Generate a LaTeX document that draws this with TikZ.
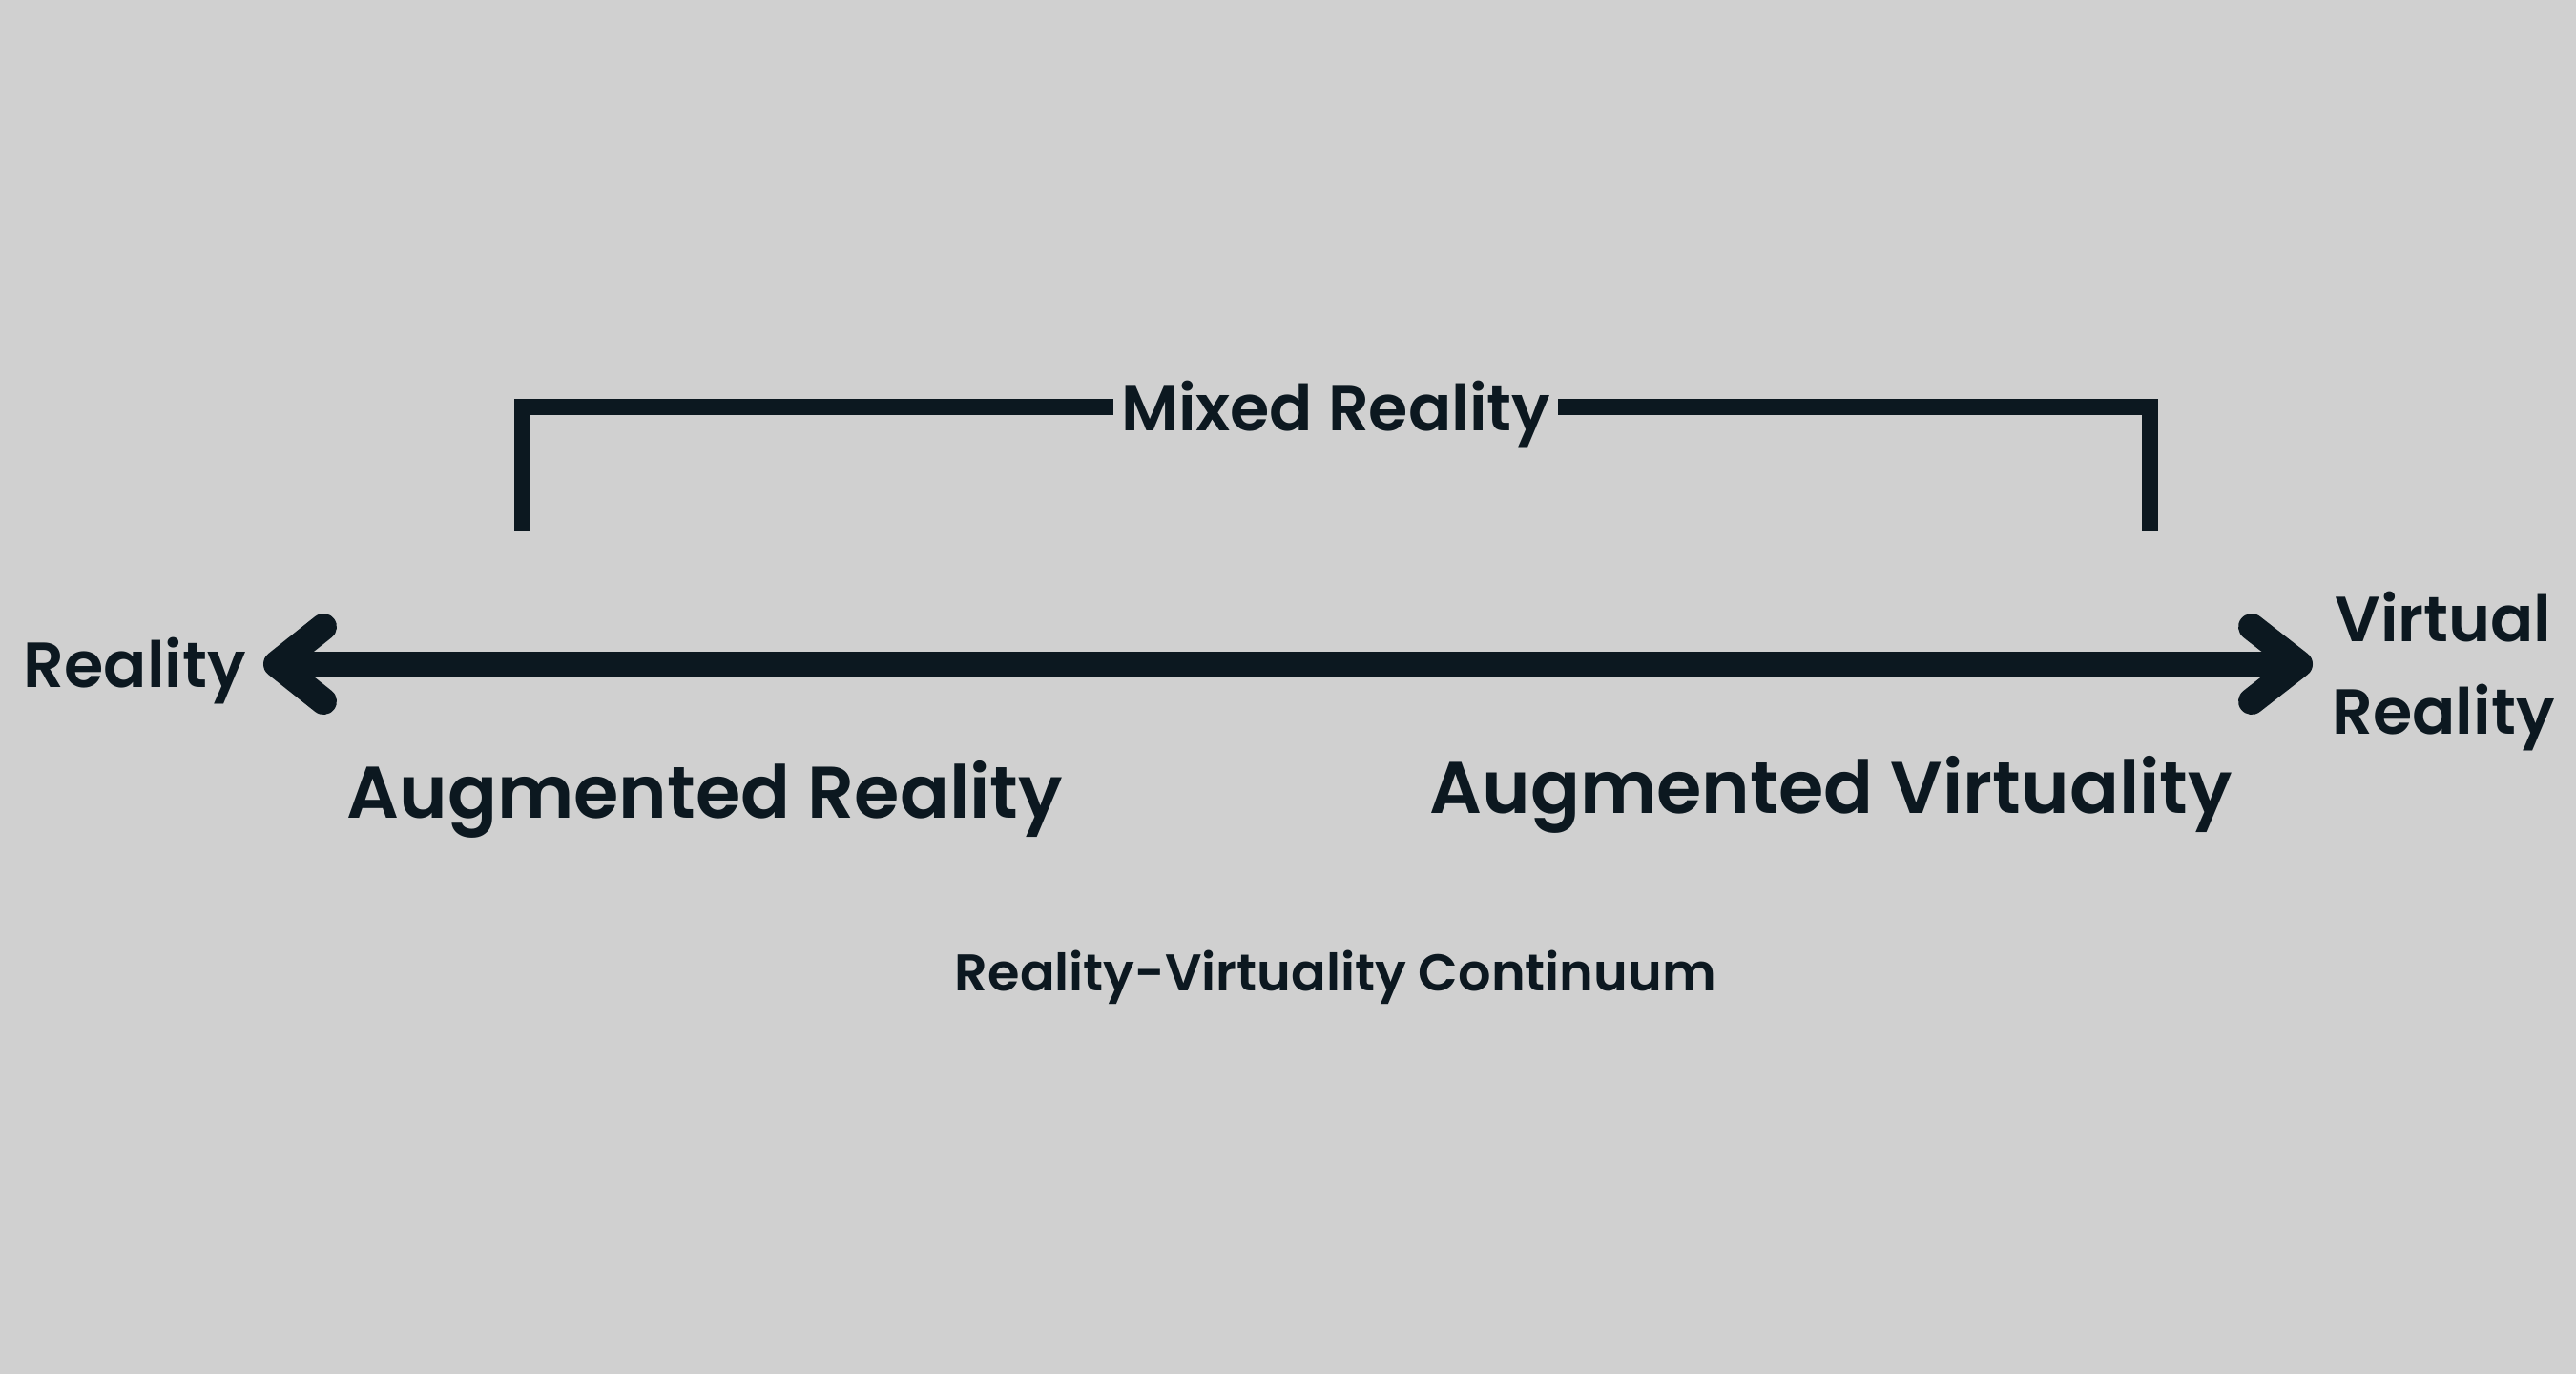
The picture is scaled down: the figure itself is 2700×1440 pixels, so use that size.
\documentclass[tikz,border=0pt]{standalone}
\usepackage{fontspec}
\setmainfont{Poppins}[UprightFont=*-SemiBold]
\definecolor{bg}{HTML}{D0D0D0}
\definecolor{ink}{HTML}{0C1820}
\begin{document}
\begin{tikzpicture}[x=0.01cm,y=-0.01cm,
  lbl/.style={text=ink, inner sep=0pt},
  midlbl/.style={lbl, font=\fontsize{19.0}{27.6}\selectfont},
  biglbl/.style={lbl, font=\fontsize{21.8}{28}\selectfont},
  smalllbl/.style={lbl, font=\fontsize{15.4}{18}\selectfont},
  shaft/.style={draw=ink, line width=0.26cm},
  barb/.style={draw=ink, line width=0.28cm, line cap=round, line join=round},
  bar/.style={draw=ink, line width=0.17cm}]
% canvas
\fill[bg] (0,0) rectangle (2700,1440);
\useasboundingbox (0,0) rectangle (2700,1440);

% ends of the continuum
\coordinate (L) at (290,696);
\coordinate (R) at (2410,696);
\coordinate (Lup) at (339,657);
\coordinate (Ldn) at (339,735);
\coordinate (Rup) at (2360,657);
\coordinate (Rdn) at (2360,735);

\draw[shaft] (L) -- (R);
\draw[barb] (Lup) -- (L) -- (Ldn);
\draw[barb] (Rup) -- (R) -- (Rdn);

% end labels
\node[midlbl, anchor=base west] (real) at (24,721) {Reality};
\node[midlbl, anchor=base, align=center] (virt) at (2561,770) {Virtual\\Reality};

% mixed reality bracket
\coordinate (mrA) at (547,557);
\coordinate (mrB) at (2253.5,557);
\coordinate (mrY) at (0,426.5);
\node[midlbl, anchor=base, inner xsep=2pt] (mixed) at (1400,452) {Mixed Reality};
\draw[bar] (mrA) |- (mixed.west |- mrY);
\draw[bar] (mrB) |- (mixed.east |- mrY);

% regions along the continuum
\node[biglbl, anchor=base west] (ar) at (363,857) {Augmented Reality};
\node[biglbl, anchor=base west] (av) at (1498,852) {Augmented Virtuality};

% caption
\node[smalllbl, anchor=base] (cap) at (1400,1038) {Reality-Virtuality Continuum};
\end{tikzpicture}
\end{document}
